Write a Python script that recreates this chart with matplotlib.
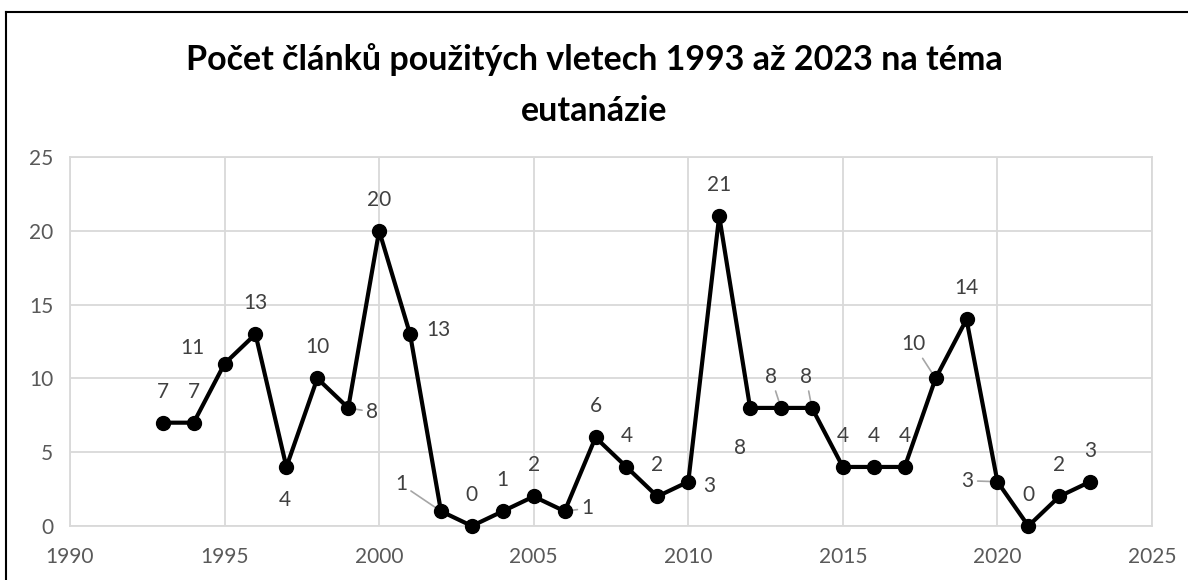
import matplotlib
matplotlib.use("Agg")
import matplotlib.pyplot as plt
from matplotlib.lines import Line2D

# data
years = list(range(1993, 2024))
counts = [7, 7, 11, 13, 4, 10, 8, 20, 13, 1, 0, 1, 2, 1, 6, 4, 2, 3, 21,
          8, 8, 8, 4, 4, 4, 10, 14, 3, 0, 2, 3]
title = "Počet článků použitých vletech 1993 až 2023 na téma\neutanázie"

# label offsets in pixels (dx, dy), and whether a leader line is drawn
offsets = {
    1995: (-32, 16), 1997: (-2, -33), 1999: (24, -4), 2001: (28, 4),
    2002: (-40, 27), 2006: (23, 3), 2010: (21, -4), 2012: (-10, -40),
    2013: (-10, 31), 2014: (-6, 31), 2018: (-22, 34), 2020: (-30, 1),
}
leaders = [1999, 2002, 2006, 2013, 2014, 2018, 2020]

plt.rcParams['font.family'] = ['Lato', 'DejaVu Sans']

fig = plt.figure(figsize=(11.88, 5.8), dpi=100)
ax = fig.add_axes([70 / 1188, 54 / 580, 1082 / 1188, 369 / 580])

ax.plot(years, counts, color='black', lw=3, marker='o', ms=10, zorder=3,
        clip_on=False)

for y, c in zip(years, counts):
    dx, dy = offsets.get(y, (0, 31))
    if y in leaders:
        ax.annotate(str(c), (y, c), xytext=(dx, dy), textcoords='offset pixels',
                    ha='center', va='center', fontsize=15, color='#404040',
                    arrowprops=dict(arrowstyle='-', color='#a6a6a6', lw=1.2,
                                    shrinkA=1, shrinkB=1), zorder=2)
    else:
        ax.annotate(str(c), (y, c), xytext=(dx, dy), textcoords='offset pixels',
                    ha='center', va='center', fontsize=15, color='#404040')

ax.set_xlim(1990, 2025)
ax.set_ylim(0, 25)
ax.set_xticks(range(1990, 2026, 5))
ax.set_yticks(range(0, 26, 5))
ax.grid(True, color='#d9d9d9', lw=1.3)
ax.set_axisbelow(True)
for s in ax.spines.values():
    s.set_color('#d9d9d9')
    s.set_linewidth(1.3)
ax.tick_params(length=0, labelsize=15, labelcolor='#595959')
ax.tick_params(axis='x', pad=15)
ax.tick_params(axis='y', pad=12)

fig.text(0.5, 1 - 85 / 580, title, ha='center', va='center', fontsize=24.5,
         fontweight='bold', linespacing=1.75)

# chart border (only top and left visible)
fig.add_artist(Line2D([6 / 1188, 6 / 1188], [0, 1 - 12 / 580], color='black',
                      lw=1.5, transform=fig.transFigure))
fig.add_artist(Line2D([6 / 1188, 1], [1 - 12 / 580, 1 - 12 / 580], color='black',
                      lw=1.5, transform=fig.transFigure))

fig.savefig('out.png', dpi=100)
